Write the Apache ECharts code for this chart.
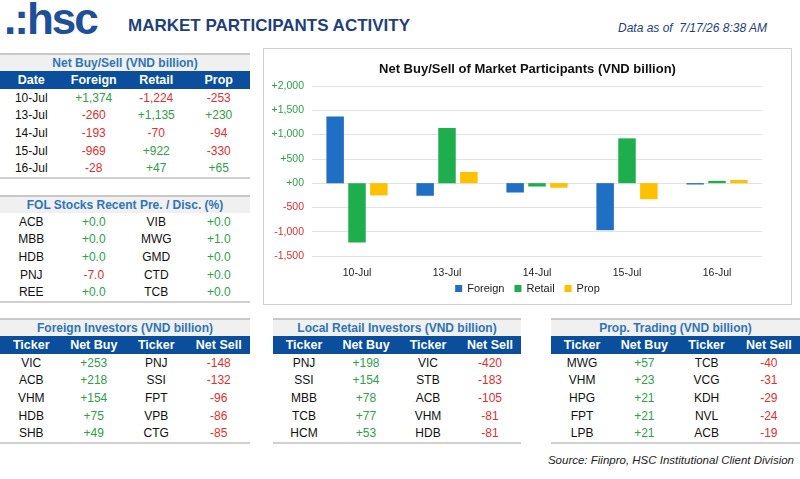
<!DOCTYPE html>
<html><head><meta charset="utf-8">
<script src="https://cdn.jsdelivr.net/npm/echarts@6/dist/echarts.min.js"></script>
<style>
body{margin:0;width:800px;height:479px;background:#fff;font-family:"Liberation Sans",Arial,sans-serif;position:relative;overflow:hidden}
.abs{position:absolute}
table{border-collapse:collapse;font-size:12px;table-layout:fixed}
td{text-align:center;height:17.6px;padding:0;color:#111}
.tt td{background:#f0f0f0;color:#2e75b6;font-weight:bold;border-top:2px solid #c8c8c8;height:16px}
.hd td{background:#0b4f9c;color:#fff;font-weight:bold;height:18px;font-size:12.5px}
.g{color:#2ea04a!important}.r{color:#e0302e!important}
tbody tr:last-child td{border-bottom:2px solid #d0d0d0}
</style></head><body>
<div class="abs" style="left:4px;top:-6px;font:bold 44px 'Liberation Sans',Arial;color:#1f4f98;letter-spacing:-2px">.:hsc</div>
<div class="abs" style="left:128px;top:16px;font:bold 17px 'Liberation Sans',Arial;color:#1f3f7a">MARKET PARTICIPANTS ACTIVITY</div>
<div class="abs" style="left:618px;top:21px;font:italic 12px 'Liberation Sans',Arial;color:#1f3f7a">Data as of &nbsp;7/17/26 8:38 AM</div>
<div id="t1" class="abs" style="left:0;top:53px"></div>
<div id="t2" class="abs" style="left:0;top:195px"></div>
<div id="t3" class="abs" style="left:0;top:318px"></div>
<div id="t4" class="abs" style="left:273px;top:318px"></div>
<div id="t5" class="abs" style="left:551px;top:318px"></div>
<div class="abs" style="left:263px;top:48px;width:527px;height:255px;border:1px solid #d0d0d0"></div>
<div id="chart" class="abs" style="left:263px;top:48px;width:529px;height:257px"></div>
<div class="abs" style="right:6px;top:454px;font:italic 11.5px 'Liberation Sans',Arial;color:#222">Source: Fiinpro, HSC Institutional Client Division</div>
<script>
var dates = ['10-Jul','13-Jul','14-Jul','15-Jul','16-Jul'];
var foreign = [1374,-260,-193,-969,-28];
var retail = [-1224,1135,-70,922,47];
var prop = [-253,230,-94,-330,65];
var yTicks = [2000,1500,1000,500,0,-500,-1000,-1500];

var folLeft = [['ACB',0.0],['MBB',0.0],['HDB',0.0],['PNJ',-7.0],['REE',0.0]];
var folRight = [['VIB',0.0],['MWG',1.0],['GMD',0.0],['CTD',0.0],['TCB',0.0]];
var fBuy = [['VIC',253],['ACB',218],['VHM',154],['HDB',75],['SHB',49]];
var fSell = [['PNJ',-148],['SSI',-132],['FPT',-96],['VPB',-86],['CTG',-85]];
var lBuy = [['PNJ',198],['SSI',154],['MBB',78],['TCB',77],['HCM',53]];
var lSell = [['VIC',-420],['STB',-183],['ACB',-105],['VHM',-81],['HDB',-81]];
var pBuy = [['MWG',57],['VHM',23],['HPG',21],['FPT',21],['LPB',21]];
var pSell = [['TCB',-40],['VCG',-31],['KDH',-29],['NVL',-24],['ACB',-19]];

function fmt(v, dec){
  var s = Math.abs(v).toLocaleString('en-US',{minimumFractionDigits:dec||0,maximumFractionDigits:dec||0});
  return (v < 0 ? '-' : '+') + s;
}
function cell(v, dec){ return '<td class="'+(v<0?'r':'g')+'">'+fmt(v,dec)+'</td>'; }
function table(w, title, head, rows){
  var h = '<table style="width:'+w+'px"><colgroup><col style="width:25%"><col style="width:25%"><col style="width:25%"><col style="width:25%"></colgroup>';
  h += '<tbody><tr class="tt"><td colspan="4">'+title+'</td></tr>';
  if (head) h += '<tr class="hd">'+head.map(function(x){return '<td>'+x+'</td>';}).join('')+'</tr>';
  h += rows.join('') + '</tbody></table>';
  return h;
}
var r1 = dates.map(function(d,i){ return '<tr><td>'+d+'</td>'+cell(foreign[i])+cell(retail[i])+cell(prop[i])+'</tr>'; });
document.getElementById('t1').innerHTML = table(250,'Net Buy/Sell (VND billion)',['Date','Foreign','Retail','Prop'],r1);
var r2 = folLeft.map(function(a,i){ return '<tr><td>'+a[0]+'</td>'+cell(a[1],1)+'<td>'+folRight[i][0]+'</td>'+cell(folRight[i][1],1)+'</tr>'; });
document.getElementById('t2').innerHTML = table(250,'FOL Stocks Recent Pre. / Disc. (%)',null,r2);
function bs(b,s){ return b.map(function(a,i){ return '<tr><td>'+a[0]+'</td>'+cell(a[1])+'<td>'+s[i][0]+'</td>'+cell(s[i][1])+'</tr>'; }); }
var hd = ['Ticker','Net Buy','Ticker','Net Sell'];
document.getElementById('t3').innerHTML = table(250,'Foreign Investors (VND billion)',hd,bs(fBuy,fSell));
document.getElementById('t4').innerHTML = table(248,'Local Retail Investors (VND billion)',hd,bs(lBuy,lSell));
document.getElementById('t5').innerHTML = table(249,'Prop. Trading (VND billion)',hd,bs(pBuy,pSell));

var chart = echarts.init(document.getElementById('chart'));
chart.setOption({
  animation:false,
  title:{text:'Net Buy/Sell of Market Participants (VND billion)',left:'center',top:10,
    textStyle:{fontSize:13,fontWeight:'bold',color:'#111',fontFamily:'Liberation Sans'}},
  legend:{bottom:6,itemWidth:7,itemHeight:7,itemGap:10,icon:'rect',
    textStyle:{fontSize:11,color:'#222',fontFamily:'Liberation Sans'},data:['Foreign','Retail','Prop']},
  grid:{left:49,right:30,top:38,bottom:49},
  xAxis:{type:'category',data:dates,axisTick:{show:false},axisLine:{show:false},
    axisLabel:{fontSize:10.5,color:'#222',margin:12}},
  yAxis:{type:'value',min:yTicks[yTicks.length-1],max:yTicks[0],interval:500,
    axisLine:{show:false},axisTick:{show:false},
    splitLine:{lineStyle:{color:'#e2e2e2'}},
    axisLabel:{fontSize:10.5,formatter:function(v){return v===0?'+00':fmt(v);},
      color:function(v){return Number(v)<0?'#e0302e':'#2ea04a';}}},
  series:[
    {name:'Foreign',type:'bar',data:foreign,itemStyle:{color:'#1f6fc5'},barGap:'25%',barCategoryGap:'32%'},
    {name:'Retail',type:'bar',data:retail,itemStyle:{color:'#1fae4e'}},
    {name:'Prop',type:'bar',data:prop,itemStyle:{color:'#ffc000'}}
  ]
});
</script></body></html>
